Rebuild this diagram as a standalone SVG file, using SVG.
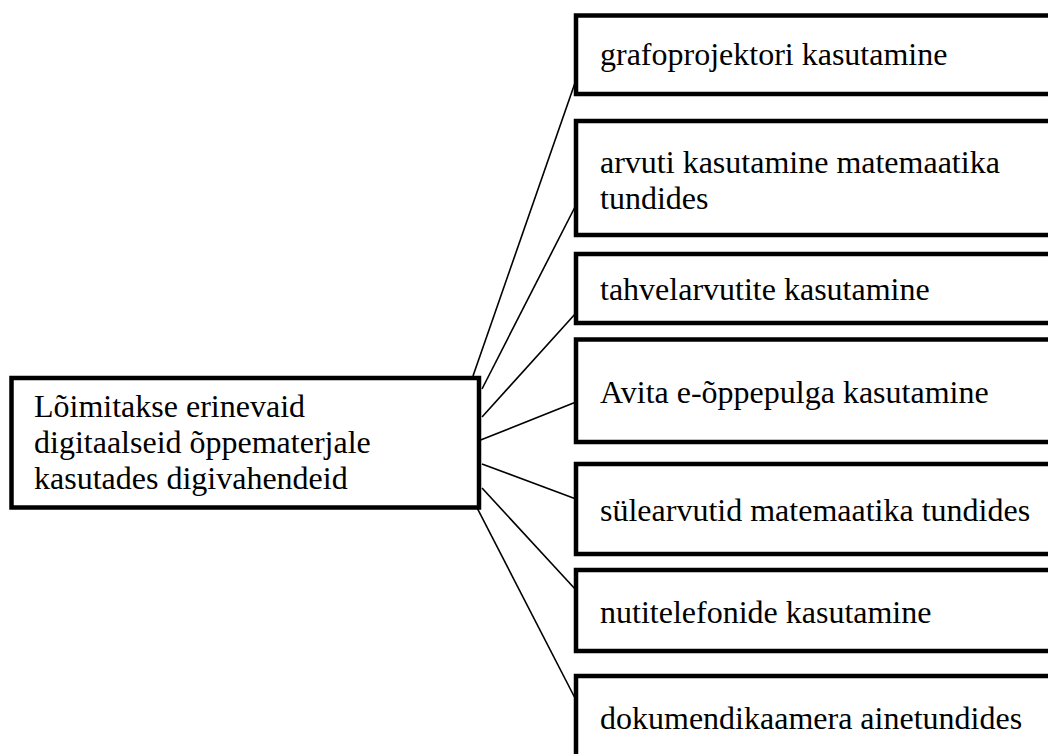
<svg xmlns="http://www.w3.org/2000/svg" width="1048" height="754" viewBox="0 0 1048 754">
<style>
.box{fill:#fff;stroke:#000;stroke-width:4.5}
.lbl{font-family:"Liberation Serif","Times New Roman",serif;font-size:32px;fill:#000}
.conn line{stroke:#000;stroke-width:1.6}
</style>
<rect width="1048" height="754" fill="#fff"/>
<g id="connectors" class="conn">
<line x1="473" y1="376" x2="576" y2="80"/>
<line x1="482" y1="389" x2="576" y2="205"/>
<line x1="482" y1="417" x2="576" y2="313"/>
<line x1="473" y1="443" x2="576" y2="402"/>
<line x1="482" y1="464" x2="576" y2="499"/>
<line x1="482" y1="488" x2="576" y2="590"/>
<line x1="473" y1="500" x2="576" y2="700"/>
</g>
<g id="root">
<rect class="box" x="11.5" y="378" width="467.5" height="129.5"/>
<text class="lbl" x="34" y="417">Lõimitakse erinevaid</text>
<text class="lbl" x="34" y="453">digitaalseid õppematerjale</text>
<text class="lbl" x="34" y="489">kasutades digivahendeid</text>
</g>
<g id="n1">
<rect class="box" x="576" y="15.5" width="490" height="78.5"/>
<text class="lbl" x="600" y="65">grafoprojektori kasutamine</text>
</g>
<g id="n2">
<rect class="box" x="576" y="121" width="490" height="114"/>
<text class="lbl" x="600" y="173">arvuti kasutamine matemaatika</text>
<text class="lbl" x="600" y="209">tundides</text>
</g>
<g id="n3">
<rect class="box" x="576" y="254" width="490" height="69"/>
<text class="lbl" x="600" y="300">tahvelarvutite kasutamine</text>
</g>
<g id="n4">
<rect class="box" x="576" y="339.5" width="490" height="102.5"/>
<text class="lbl" x="600" y="402.5">Avita e-õppepulga kasutamine</text>
</g>
<g id="n5">
<rect class="box" x="576" y="464" width="490" height="90"/>
<text class="lbl" x="600" y="520.5">sülearvutid matemaatika tundides</text>
</g>
<g id="n6">
<rect class="box" x="576" y="570" width="490" height="81"/>
<text class="lbl" x="600" y="622.5">nutitelefonide kasutamine</text>
</g>
<g id="n7">
<rect class="box" x="576" y="676" width="490" height="110"/>
<text class="lbl" x="600" y="729">dokumendikaamera ainetundides</text>
</g>
</svg>
